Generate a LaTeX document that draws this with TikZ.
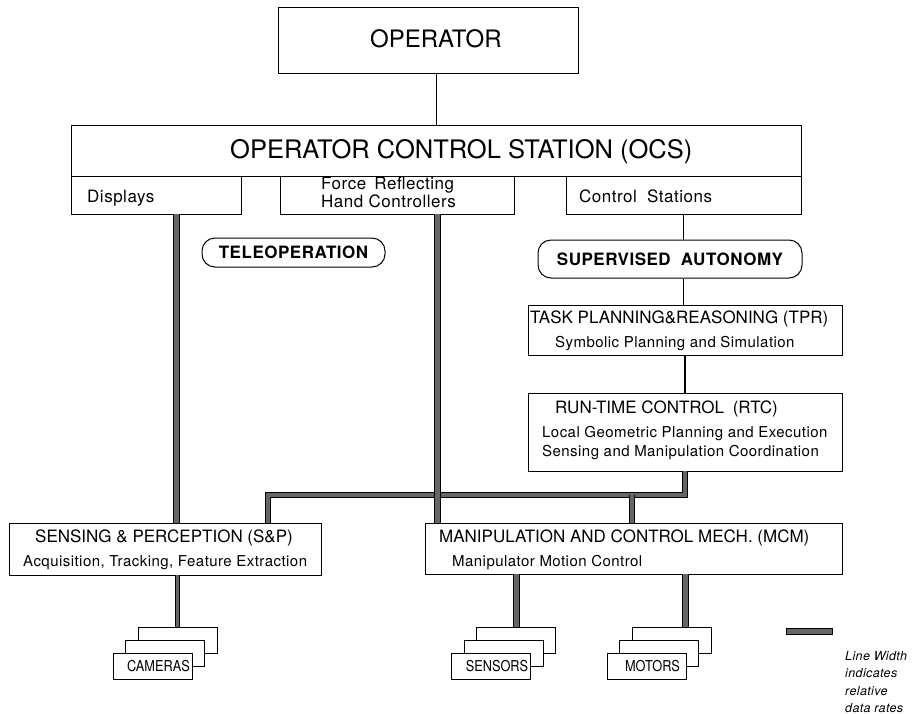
\documentclass[tikz,border=0pt]{standalone}
\usepackage{fontspec}
\setmainfont{TeX Gyre Heros}
\newfontfamily\spacedsans[LetterSpace=3]{TeX Gyre Heros}
\newfontfamily\narrowsans[FakeStretch=0.85]{TeX Gyre Heros}
\usepackage{tikz}

\begin{document}
\begin{tikzpicture}[x=1pt,y=-1pt,
  every node/.style={inner sep=0pt},
  box/.style={draw,line width=0.9pt,fill=white},
  oval/.style={draw,line width=1pt,rounded corners=13pt,
    font=\spacedsans\bfseries\fontsize{17}{20}\selectfont},
  unit/.style={box,minimum width=79,minimum height=26},
  txt/.style={anchor=base west},
  big/.style={txt,font=\fontsize{24}{28}\selectfont},
  sub/.style={txt,font=\spacedsans\fontsize{17}{20}\selectfont},
  title/.style={txt,font=\fontsize{17}{20}\selectfont},
  body/.style={txt,font=\spacedsans\fontsize{15}{18}\selectfont},
  note/.style={txt,font=\spacedsans\itshape\fontsize{12.5}{15}\selectfont},
  devlbl/.style={anchor=base,font=\narrowsans\fontsize{15}{18}\selectfont},
  link/.style={line width=1pt},
  heavy/.style={draw=black,line width=1pt,double=black!60,double distance=5pt},
  medium/.style={heavy,double distance=3.2pt}]
\useasboundingbox (0,0) rectangle (913,713);

% operator and control station
\node[box,minimum width=300,minimum height=66] (operator) at (428,40) {};
\node[big] (operator-txt) at (370,47) {OPERATOR};
\node[box,minimum width=730,minimum height=51] (ocs) at (436,150.5) {};
\node[big,font=\fontsize{25.5}{30}\selectfont] (ocs-txt) at (230,158)
  {OPERATOR CONTROL STATION (OCS)};
\node[box,minimum width=170,minimum height=38] (displays) at (156,195) {};
\node[box,minimum width=234,minimum height=38] (force) at (397,195) {};
\node[box,minimum width=235,minimum height=38] (stations) at (683.5,195) {};
\node[sub] (displays-txt) at (87,202) {Displays};
\node[sub] (force-l1) at (321,189) {Force\hspace{3pt} Reflecting};
\node[sub] (force-l2) at (321,207) {Hand Controllers};
\node[sub] (stations-txt) at (579,202) {Control\hspace{5pt} Stations};

% modes
\node[oval,minimum width=183,minimum height=29] (teleop) at (293.5,252.5) {TELEOPERATION};
\node[oval,minimum width=264,minimum height=38] (supauto) at (670,259)
  {SUPERVISED\hspace{5pt} AUTONOMY};

% planning levels
\node[box,minimum width=314,minimum height=50] (tpr) at (685,330) {};
\node[title] (tpr-l1) at (530,323) {TASK PLANNING\&REASONING (TPR)};
\node[body] (tpr-l2) at (555,347) {Symbolic Planning and Simulation};
\node[box,minimum width=314,minimum height=78] (rtc) at (685,432) {};
\node[title] (rtc-l1) at (555,413) {RUN-TIME CONTROL\hspace{4pt} (RTC)};
\node[body] (rtc-l2) at (542,437) {Local Geometric Planning and Execution};
\node[body] (rtc-l3) at (542,456) {Sensing and Manipulation Coordination};

% subsystems
\node[box,minimum width=312,minimum height=52] (sp) at (165,549) {};
\node[title] (sp-l1) at (35,542) {SENSING \& PERCEPTION (S\&P)};
\node[body] (sp-l2) at (23,566) {Acquisition, Tracking, Feature Extraction};
\node[box,minimum width=417,minimum height=51] (mcm) at (633.5,548.5) {};
\node[title] (mcm-l1) at (439,542) {MANIPULATION AND CONTROL MECH. (MCM)};
\node[body] (mcm-l2) at (452,566) {Manipulator Motion Control};

% device stacks
\foreach \dev/\x/\lbl in {cam/177.5/CAMERAS,sen/516/SENSORS,mot/671.5/MOTORS}{
  \node[unit] (\dev3) at (\x,640) {};
  \node[unit] (\dev2) at (\x-12.5,653) {};
  \node[unit] (\dev1) at (\x-25,666) {};
  \node[devlbl] (\dev-txt) at (\x-19,671) {\lbl};
}

% thin links
\draw[link] (ocs.north) -- (ocs.north |- operator.south);
\draw[link] (stations.south) -- (stations.south |- supauto.north);
\draw[link] (stations.south |- supauto.south) -- (stations.south |- tpr.north);
\draw[link,line width=1.4pt] (tpr.south) -- (rtc.north);

% data paths, width ~ data rate
\coordinate (busL) at (268,495);
\coordinate (busM) at (632,495);
\draw[medium] (rtc.south) |- (busL) -- (busL |- sp.north);
\draw[medium] (busM) -- (busM |- mcm.north);
\draw[heavy] ([xshift=20pt]displays.south) coordinate (d) -- (d |- sp.north);
\draw[heavy] ([xshift=40pt]force.south) coordinate (f) -- (f |- mcm.north);
\draw[medium] (cam3.north |- sp.south) -- (cam3.north);
\draw[heavy] (sen3.north |- mcm.south) -- (sen3.north);
\draw[heavy] ([xshift=13.5pt]mot3.north) coordinate (m) -- (m |- mcm.south);

% key
\node[draw,line width=0.8pt,fill=black!60,minimum width=46,minimum height=6] (key) at (809,631) {};
\node[note] (key-l1) at (845,660) {Line Width};
\node[note] (key-l2) at (845,677.5) {indicates};
\node[note] (key-l3) at (845,695) {relative};
\node[note] (key-l4) at (845,712) {data rates};
\end{tikzpicture}
\end{document}
